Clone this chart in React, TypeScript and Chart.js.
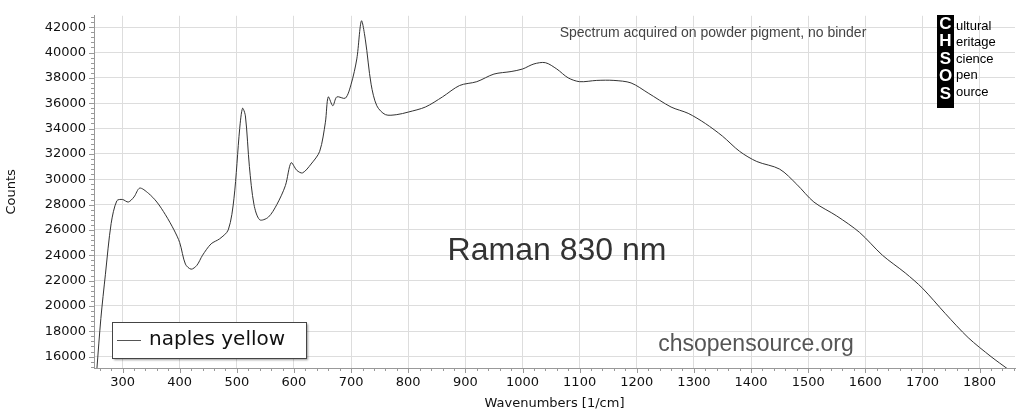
import React, { useEffect, useRef } from "react";
import { Chart, registerables } from "chart.js";
Chart.register(...registerables);

const wavenumbers = [255,262,270,280,290,300,310,320,330,345,360,375,390,400,410,420,430,440,455,470,485,495,505,510,515,522,530,540,555,570,585,595,605,615,630,645,655,660,668,675,690,700,710,718,725,735,745,760,780,800,830,860,890,920,950,980,1000,1020,1040,1060,1080,1100,1130,1160,1190,1220,1260,1290,1320,1350,1380,1410,1450,1480,1510,1550,1590,1630,1670,1700,1740,1780,1820,1850];
const counts = [15000,19000,22500,26500,28300,28400,28200,28600,29300,28900,28200,27200,26000,25000,23300,22900,23200,24000,24900,25300,26000,28500,34000,35600,35000,31000,28000,26800,27000,28000,29500,31300,30700,30500,31200,32200,34500,36500,35800,36500,36400,37500,39500,42500,41000,37500,35800,35100,35100,35300,35700,36500,37400,37700,38300,38500,38700,39100,39200,38700,38000,37700,37800,37800,37600,36800,35700,35200,34400,33400,32200,31400,30800,29600,28200,27100,25800,24000,22600,21400,19400,17500,16000,15000];
const xTickValues = [300,400,500,600,700,800,900,1000,1100,1200,1300,1400,1500,1600,1700,1800];
const yTickValues = [16000,18000,20000,22000,24000,26000,28000,30000,32000,34000,36000,38000,40000,42000];
const seriesName = "naples yellow";
const logoLetters = ["C","H","S","O","S"];
const logoWords = ["ultural","eritage","cience","pen","ource"];

const FONT = "Verdana, 'DejaVu Sans', sans-serif";
const SANS = "Arial, 'Liberation Sans', sans-serif";

const overlay = {
  id: "overlay",
  afterDraw(chart: any) {
    const c = chart.ctx;
    const a = chart.chartArea;
    c.save();
    c.strokeStyle = "#999"; c.lineWidth = 1;
    const xs = chart.scales.x, ys = chart.scales.y;
    for (let v = 260; v < 1862; v += 20) {
      const px = Math.round(xs.getPixelForValue(v)) + 0.5;
      const len = v % 100 === 0 ? 5 : 3;
      c.beginPath(); c.moveTo(px, a.bottom); c.lineTo(px, a.bottom + len); c.stroke();
    }
    for (let v = 15200; v < 42900; v += 400) {
      const py = Math.round(ys.getPixelForValue(v)) + 0.5;
      const len = v % 2000 === 0 ? 5 : 3;
      c.beginPath(); c.moveTo(a.left - len, py); c.lineTo(a.left, py); c.stroke();
    }
    c.fillStyle = "#333"; c.textAlign = "center"; c.textBaseline = "middle";
    c.font = "32px " + SANS; c.fillText("Raman 830 nm", 557, 251);
    c.fillStyle = "#555"; c.font = "23px " + SANS; c.fillText("chsopensource.org", 756, 345);
    c.fillStyle = "#444"; c.font = "14px " + SANS; c.fillText("Spectrum acquired on powder pigment, no binder", 713, 33);
    c.fillStyle = "#000"; c.fillRect(937, 15, 17, 93);
    c.font = "bold 17px " + SANS;
    c.fillStyle = "#fff"; c.textAlign = "center";
    logoLetters.forEach((l, i) => c.fillText(l, 945.5, 24 + i * 17.5));
    c.fillStyle = "#000"; c.textAlign = "left"; c.font = "13px " + SANS;
    logoWords.forEach((w, i) => c.fillText(w, 956, 26 + i * 16.5));
    c.fillStyle = "#fff"; c.strokeStyle = "#444";
    c.shadowColor = "rgba(0,0,0,0.4)"; c.shadowOffsetX = 2; c.shadowOffsetY = 2; c.shadowBlur = 2;
    c.fillRect(112, 322, 194, 36);
    c.shadowColor = "transparent";
    c.strokeRect(112.5, 322.5, 194, 36);
    c.strokeStyle = "#555"; c.beginPath(); c.moveTo(117, 340.5); c.lineTo(141, 340.5); c.stroke();
    c.fillStyle = "#111"; c.font = "20px " + FONT; c.fillText(seriesName, 149, 340);
    c.restore();
  },
};

export default function App() {
  const ref = useRef<HTMLCanvasElement>(null);
  useEffect(() => {
    document.body.style.margin = "0";
    const chart = new Chart(ref.current!, {
      type: "line",
      data: {
        datasets: [{
          label: seriesName,
          data: wavenumbers.map((x, i) => ({ x, y: counts[i] })),
          borderColor: "#333", borderWidth: 1, pointRadius: 0, tension: 0.3, fill: false,
        }],
      },
      options: {
        animation: false, responsive: false,
        layout: { padding: { top: 4, right: 9 } },
        plugins: { legend: { display: false }, tooltip: { enabled: false } },
        scales: {
          x: {
            type: "linear", min: 250, max: 1862,
            afterBuildTicks: (s: any) => { s.ticks = xTickValues.map((value) => ({ value })); },
            afterFit: (s: any) => { s.height = 47; },
            ticks: { color: "#111", font: { family: FONT, size: 13 }, maxRotation: 0, autoSkip: false, padding: 7, callback: (v: any) => String(v) },
            grid: { color: "#ddd", drawTicks: false },
            border: { color: "#999" },
            title: { display: true, text: "Wavenumbers [1/cm]", color: "#111", font: { family: FONT, size: 13 }, padding: { top: 0 } },
          },
          y: {
            min: 15100, max: 42900,
            afterBuildTicks: (s: any) => { s.ticks = yTickValues.map((value) => ({ value })); },
            afterFit: (s: any) => { s.width = 94; },
            ticks: { color: "#111", font: { family: FONT, size: 13 }, padding: 8, autoSkip: false, callback: (v: any) => String(v) },
            grid: { color: "#ddd", drawTicks: false },
            border: { color: "#999" },
            title: { display: true, text: "Counts", color: "#111", font: { family: FONT, size: 13 } },
          },
        },
      },
      plugins: [overlay],
    });
    return () => chart.destroy();
  }, []);
  return <canvas ref={ref} width={1024} height={415} style={{ display: "block" }} />;
}
